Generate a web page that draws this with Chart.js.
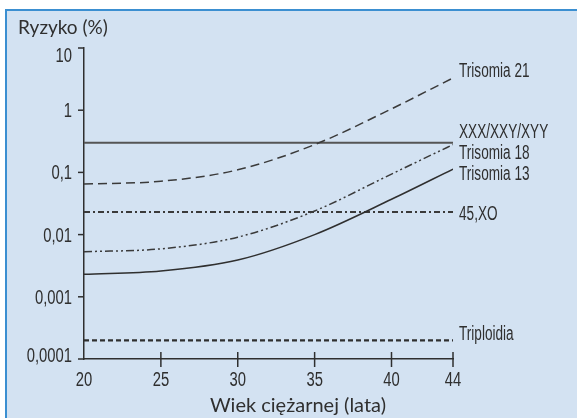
<!DOCTYPE html>
<html>
<head>
<meta charset="utf-8">
<script src="https://cdn.jsdelivr.net/npm/chart.js@4"></script>
<style>
  html, body { margin: 0; padding: 0; background: #fff; }
  body { width: 577px; height: 418px; position: relative; overflow: hidden; }
  .panel {
    position: absolute; left: 5px; top: 9px; right: 0; bottom: 0;
    background: #d3e2f2;
    border-top: 2px solid #3b8fd1;
    border-left: 2px solid #3b8fd1;
  }
  #chart { position: absolute; left: 0; top: 0; }
</style>
</head>
<body>
<div class="panel"></div>
<canvas id="chart" width="577" height="418"></canvas>
<script>
// maternal age (years) and risk in %
var ages = [20, 25, 30, 35, 40, 44];
var trisomy21 = [0.065, 0.072, 0.11, 0.28, 1.05, 3.3];
var sexChromosomes = [0.3, 0.3, 0.3, 0.3, 0.3, 0.3];
var trisomy18 = [0.0053, 0.0059, 0.0091, 0.024, 0.094, 0.28];
var trisomy13 = [0.0023, 0.0026, 0.0039, 0.01, 0.037, 0.113];
var monosomyX = [0.023, 0.023, 0.023, 0.023, 0.023, 0.023];
var triploidy = [0.0002, 0.0002, 0.0002, 0.0002, 0.0002, 0.0002];

var seriesNames = ['Trisomia 21', 'XXX/XXY/XYY', 'Trisomia 18', 'Trisomia 13', '45,XO', 'Triploidia'];
var xTicks = [20, 25, 30, 35, 40, 44];
var yTicks = [0.0001, 0.001, 0.01, 0.1, 1, 10];
var yTickLabels = ['0,0001', '0,001', '0,01', '0,1', '1', '10'];

var ink = '#2f2f2f';
var narrowFont = '20px "Liberation Sans"';

function toPoints(values) {
    return ages.map(function (a, i) { return { x: a, y: values[i] }; });
}

// text squeezed horizontally to look like a condensed face
function narrowText(c, text, x, y, align, squeeze) {
    c.save();
    c.font = narrowFont;
    c.fillStyle = ink;
    c.textBaseline = 'alphabetic';
    var w = c.measureText(text).width * squeeze;
    var left = align === 'right' ? x - w : align === 'center' ? x - w / 2 : x;
    c.translate(left, y);
    c.scale(squeeze, 1);
    c.fillText(text, 0, 0);
    c.restore();
}

var axesAndLabels = {
    id: 'axesAndLabels',
    afterDatasetsDraw: function (chart) {
        var c = chart.ctx;
        var area = chart.chartArea;
        var xs = chart.scales.x;
        var ys = chart.scales.y;

        c.save();
        c.strokeStyle = ink;
        c.lineWidth = 1.5;

        // y ticks point outwards
        yTicks.forEach(function (v, i) {
            var py = ys.getPixelForValue(v);
            c.beginPath();
            c.moveTo(area.left - 6, py);
            c.lineTo(area.left, py);
            c.stroke();
            var ly = Math.min(Math.max(py, area.top + 7), area.bottom - 4);
            narrowText(c, yTickLabels[i], 72, ly + 7, 'right', 0.74);
        });

        // x ticks cross the axis
        xTicks.forEach(function (v) {
            var px = xs.getPixelForValue(v);
            if (v !== xTicks[0]) {
                c.beginPath();
                c.moveTo(px, area.bottom - 7);
                c.lineTo(px, area.bottom + 8);
                c.stroke();
            }
            narrowText(c, String(v), px, 386, 'center', 0.74);
        });
        c.restore();

        // series names at the right end of each line
        chart.data.datasets.forEach(function (ds, i) {
            var last = ds.data[ds.data.length - 1];
            var py = ys.getPixelForValue(last.y) + ds.labelShift;
            narrowText(c, seriesNames[i], xs.getPixelForValue(last.x) + 6, py + 7, 'left', 0.68);
        });

        // axis titles
        c.save();
        c.fillStyle = ink;
        c.textAlign = 'left';
        c.font = '19px Lato';
        c.fillText('Ryzyko (%)', 18, 34);
        c.textAlign = 'center';
        c.font = '20px Lato';
        c.fillText('Wiek ciężarnej (lata)', 298, 412);
        c.restore();
    }
};

function line(values, dash, width, color, shift) {
    return {
        data: toPoints(values),
        borderColor: color,
        borderWidth: width,
        borderDash: dash,
        pointRadius: 0,
        fill: false,
        cubicInterpolationMode: 'monotone',
        labelShift: shift
    };
}

new Chart(document.getElementById('chart'), {
    type: 'line',
    data: {
        datasets: [
            line(trisomy21, [9, 5], 1.5, '#3a3a3a', -8),
            line(sexChromosomes, [], 2, '#555555', -12),
            line(trisomy18, [8, 3, 2, 3, 2, 3], 1.5, '#3a3a3a', 7),
            line(trisomy13, [], 1.5, '#2f2f2f', 4),
            line(monosomyX, [6, 3, 2, 3], 2, '#3a3a3a', 1),
            line(triploidy, [5, 3], 2.2, '#2f2f2f', -7)
        ]
    },
    options: {
        responsive: false,
        animation: false,
        layout: { padding: { left: 0, top: 48, right: 124, bottom: 0 } },
        plugins: { legend: { display: false }, tooltip: { enabled: false } },
        scales: {
            x: {
                type: 'linear',
                min: 20,
                max: 44,
                grid: { display: false },
                border: { display: true, color: ink, width: 1.5 },
                ticks: { display: false },
                afterFit: function (s) { s.height = 59; }
            },
            y: {
                type: 'logarithmic',
                min: 0.0001,
                max: 10,
                grid: { display: false },
                border: { display: true, color: ink, width: 1.5 },
                ticks: { display: false },
                afterFit: function (s) { s.width = 84; }
            }
        }
    },
    plugins: [axesAndLabels]
});
</script>
</body>
</html>
